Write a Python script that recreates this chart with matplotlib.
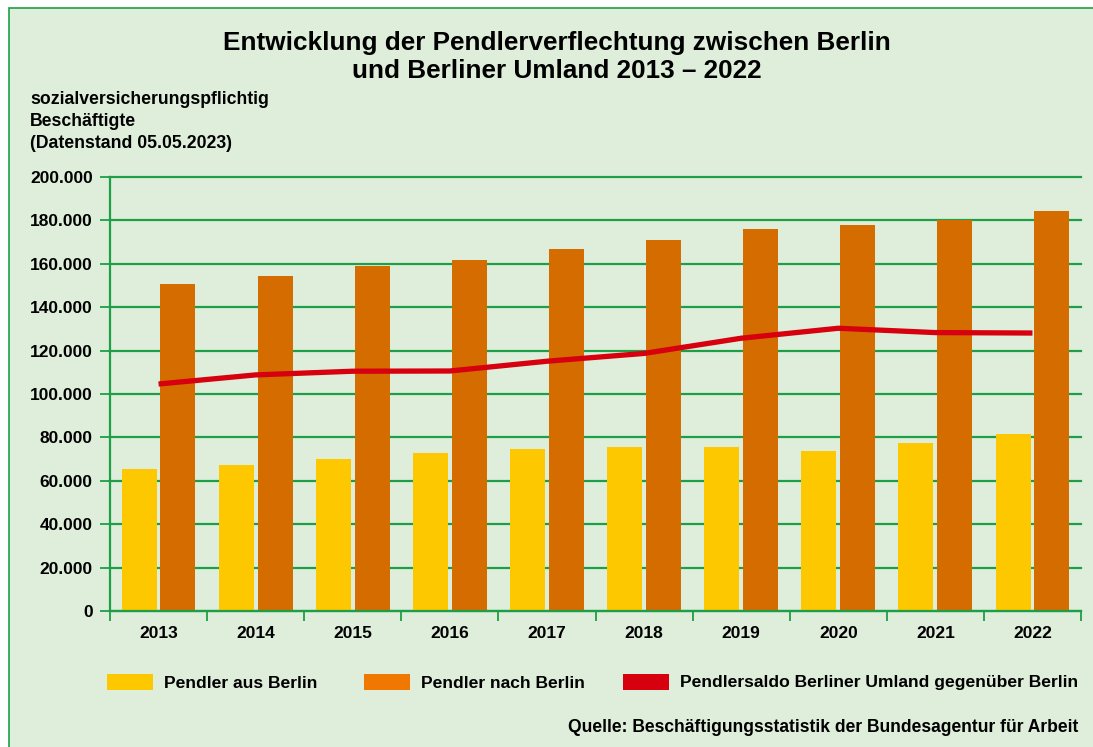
import matplotlib
matplotlib.use('Agg')
import matplotlib.pyplot as plt
from matplotlib.patches import Rectangle
from matplotlib.ticker import FuncFormatter, FixedLocator
import numpy as np

# data (thousands of employees)
years = ['2013', '2014', '2015', '2016', '2017', '2018', '2019', '2020', '2021', '2022']
aus_berlin = [65.6, 67.5, 70.2, 73.0, 74.8, 75.7, 75.7, 73.9, 77.6, 81.7]
nach_berlin = [150.7, 154.4, 159.0, 161.8, 166.8, 171.0, 176.0, 177.9, 180.2, 184.3]
saldo = [104.6, 108.8, 110.5, 110.6, 115.1, 118.7, 125.7, 130.3, 128.3, 128.1]
legend_labels = ['Pendler aus Berlin', 'Pendler nach Berlin',
                 'Pendlersaldo Berliner Umland gegen\u00fcber Berlin']

W, H = 1093, 747
bg = '#DFEEDB'
green = '#1E9E46'
yellow = '#FDC800'
orange = '#D46C00'
orange_leg = '#F07800'
red = '#D6000E'
plt.rcParams['font.family'] = ['Liberation Sans', 'DejaVu Sans']
plt.rcParams['font.weight'] = 'bold'

fig = plt.figure(figsize=(W / 100, H / 100), dpi=100)
fig.patch.set_facecolor('white')


def fx(x):
    return x / W


def fy(y):
    return 1 - y / H


# green frame
fig.add_artist(Rectangle((fx(9), fy(760)), fx(1200), fy(8) - fy(760),
                         transform=fig.transFigure, facecolor=bg,
                         edgecolor=green, linewidth=1.2, zorder=-5))

ax = fig.add_axes([fx(110), fy(611), fx(1081) - fx(110), fy(177) - fy(611)])
ax.set_facecolor('none')

x = np.arange(len(years))
ax.bar(x - 0.2, aus_berlin, width=0.36, color=yellow, zorder=2)
ax.bar(x + 0.2, nach_berlin, width=0.36, color=orange, zorder=2)
ax.plot(x, saldo, color=red, linewidth=3.8, solid_capstyle='butt',
        solid_joinstyle='miter', zorder=3)

ax.set_xlim(-0.5, len(years) - 0.5)
ax.set_ylim(0, 200)
ax.set_yticks(np.arange(0, 201, 20))
ax.yaxis.set_major_formatter(FuncFormatter(
    lambda v, p: '0' if v == 0 else f'{int(v)}.000'))
ax.grid(axis='y', color=green, linewidth=1.6, zorder=1)
ax.set_axisbelow(True)
for gl in ax.get_ygridlines():
    gl.set_clip_on(False)

ax.set_xticks(x)
ax.set_xticklabels(years)
ax.xaxis.set_minor_locator(FixedLocator(np.arange(-0.5, len(years), 1.0)))
ax.tick_params(axis='x', which='major', length=0, pad=11, labelsize=12.5)
ax.tick_params(axis='x', which='minor', length=7, width=1.3, color=green,
               direction='out')
ax.tick_params(axis='y', length=7, width=1.3, color=green, direction='out',
               pad=5.5, labelsize=12.5)

for s in ('top', 'right'):
    ax.spines[s].set_visible(False)
for s in ('left', 'bottom'):
    ax.spines[s].set_color(green)
    ax.spines[s].set_linewidth(1.6)

# titles
fig.text(0.5 + fx(10), fy(43), 'Entwicklung der Pendlerverflechtung zwischen Berlin',
         ha='center', va='center', fontsize=18.8)
fig.text(0.5 + fx(10), fy(71), 'und Berliner Umland 2013 \u2013 2022',
         ha='center', va='center', fontsize=18.8)

fig.text(fx(30), fy(100), 'sozialversicherungspflichtig', ha='left', va='center', fontsize=12.7)
fig.text(fx(30), fy(122), 'Besch\u00e4ftigte', ha='left', va='center', fontsize=12.7)
fig.text(fx(30), fy(143), '(Datenstand 05.05.2023)', ha='left', va='center', fontsize=12.7)

# legend
for px, col, lab in zip((107, 364, 623), (yellow, orange_leg, red), legend_labels):
    fig.add_artist(Rectangle((fx(px), fy(690)), fx(46), fy(674) - fy(690),
                             transform=fig.transFigure, facecolor=col,
                             edgecolor='none'))
    fig.text(fx(px + 57), fy(683), lab, ha='left', va='center', fontsize=12.6)

fig.text(fx(1078), fy(727), 'Quelle: Besch\u00e4ftigungsstatistik der Bundesagentur f\u00fcr Arbeit',
         ha='right', va='center', fontsize=12.65)

fig.savefig('out.png', dpi=100)
